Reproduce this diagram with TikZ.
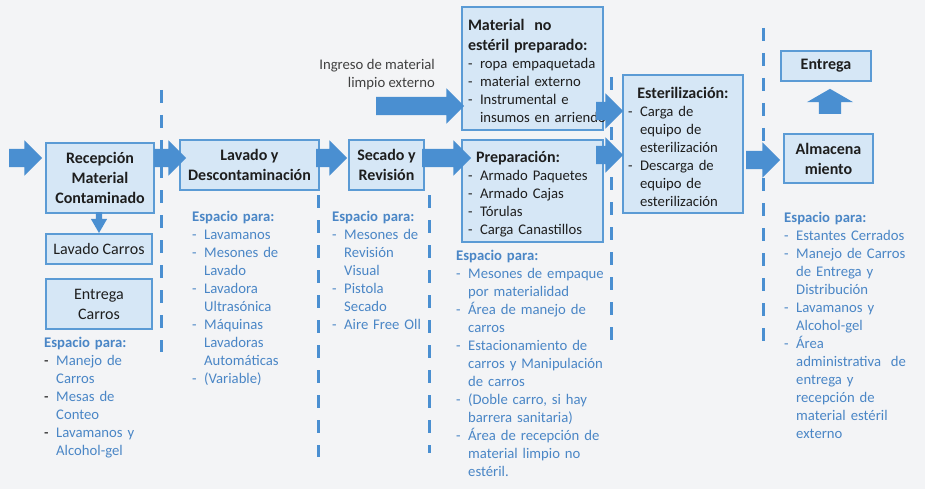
\documentclass[tikz,border=0pt]{standalone}
\usepackage{fontspec}
\setmainfont{Carlito}
\usetikzlibrary{positioning,shapes.arrows}
\definecolor{bgrey}{HTML}{F3F4F6}
\definecolor{boxfill}{HTML}{D6E7F6}
\definecolor{boxline}{HTML}{5B9BD5}
\definecolor{arrblue}{HTML}{4A8FD1}
\definecolor{txtblue}{HTML}{4A86C6}
\definecolor{txtdark}{HTML}{1E1E1E}
\newcommand{\lsize}{\fontsize{14.7pt}{18pt}\selectfont}
\newcommand{\tsize}{\fontsize{16pt}{20pt}\selectfont}
\newcommand{\tstrut}{\rule{0pt}{17pt}}
% list item with a dash; \\ starts an indented continuation line
\newcommand{\itm}[2][.]{\par\def\\{\par\noindent\hspace*{12pt}}\noindent\makebox[12pt][l]{\textcolor{#1}{-}}#2}
\tikzset{
  box/.style={draw=boxline, fill=boxfill, line width=1.2pt, text=txtdark, inner sep=0pt},
  ttl/.style={box, font=\tsize\bfseries, align=center},
  plain/.style={box, font=\tsize, align=center},
  lbox/.style={box, font=\lsize, align=left, inner xsep=6pt},
  barrow/.style={single arrow, fill=arrblue, inner xsep=0pt, inner ysep=9pt, minimum width=0pt,
    single arrow head extend=8.5pt, single arrow tip angle=90, anchor=tip},
  splist/.style={anchor=north west, inner sep=0pt, text width=170pt, align=left, font=\lsize, text=txtblue},
  dline/.style={draw=arrblue, line width=3pt, dash pattern=on 13pt off 12pt}
}
\begin{document}
\begin{tikzpicture}[x=1pt, y=-1pt]
\path[use as bounding box, fill=bgrey] (0,0) rectangle (925,489);

% zone separators
\draw[dline] (161,90) -- (161,352);
\draw[dline] (318.5,195) -- (318.5,457);
\draw[dline] (429,195) -- (429,453);
\draw[dline] (611,77) -- (611,340);
\draw[dline] (763,28) -- (763,350);

% process boxes
\node[ttl, minimum width=108pt, minimum height=70pt] (rec) at (100,178) {Recepción\\Material\\Contaminado};
\node[plain, minimum width=106pt, minimum height=30pt] (lcar) at (99,249) {Lavado Carros};
\node[plain, minimum width=106pt, minimum height=50pt] (ecar) at (99,304) {Entrega\\Carros};
\node[ttl, minimum width=139pt, minimum height=50pt] (lav) at (249.5,165) {Lavado y\\Descontaminación};
\node[ttl, minimum width=75pt, minimum height=50pt] (sec) at (386.5,165) {Secado y\\Revisión};
\node[lbox, text width=129pt, minimum height=123pt] (mat) at (532.5,68.5)
  {{\tsize\bfseries\tstrut Material\ \ no\\estéril preparado:\par}\itm{ropa empaquetada}\itm{material externo}\itm{Instrumental e\\\mbox{insumos en arriendo}}};
\node[lbox, text width=129pt, minimum height=102pt] (prep) at (532.5,191)
  {{\tsize\bfseries\tstrut\hspace*{8pt}Preparación:\par}\itm{Armado Paquetes}\itm{Armado Cajas}\itm{Tórulas}\itm{Carga Canastillos}};
\node[lbox, inner xsep=5pt, text width=110pt, minimum height=138pt] (est) at (683,144)
  {\makebox[110pt][c]{\tsize\bfseries\tstrut Esterilización:}\itm{Carga de\\equipo de\\esterilización}\itm{Descarga de\\equipo de\\esterilización}};
\node[ttl, minimum width=90pt, minimum height=30pt] (ent) at (826,66) {Entrega};
\node[ttl, minimum width=89pt, minimum height=49pt] (alm) at (828.5,158.5) {Almacena\\miento};

\node[font=\lsize, align=right, text=txtdark!85, inner sep=0pt, anchor=east] (ing) at (435,74.5) {Ingreso de material\\limpio externo};

% space lists
\node[splist] (sp1) at (44,337) {\textbf{Espacio para:}\itm[black]{Manejo de\\Carros}\itm[black]{Mesas de\\Conteo}\itm[black]{Lavamanos y\\Alcohol-gel}};
\node[splist] (sp2) at (192,211) {\textbf{Espacio para:}\itm{Lavamanos}\itm{Mesones de\\Lavado}\itm{Lavadora\\Ultrasónica}\itm{Máquinas\\Lavadoras\\Automáticas}\itm{(Variable)}};
\node[splist] (sp3) at (332,211) {\textbf{Espacio para:}\itm{Mesones de\\Revisión\\Visual}\itm{Pistola\\Secado}\itm{Aire Free Oll}};
\node[splist] (sp4) at (456,250) {\textbf{Espacio para:}\itm{Mesones de empaque\\por materialidad}\itm{Área de manejo de\\carros}\itm{Estacionamiento de\\carros y Manipulación\\de carros}\itm{(Doble carro, si hay\\barrera sanitaria)}\itm{Área de recepción de\\material limpio no\\estéril.}};
\node[splist] (sp5) at (784,212) {\textbf{Espacio para:}\itm{Estantes Cerrados}\itm{Manejo de Carros\\de Entrega y\\Distribución}\itm{Lavamanos y\\Alcohol-gel}\itm{Área\\administrativa\ \ de\\entrega y\\recepción de\\material estéril\\externo}};

% flow arrows
\node[barrow, minimum height=33pt] (a0) at ([xshift=-3pt,yshift=20pt]rec.west) {};
\node[barrow, minimum height=32pt] (a1) at ([xshift=7pt,yshift=7pt]lav.west) {};
\node[barrow, minimum height=31pt] (a2) at ([xshift=-1pt,yshift=7pt]sec.west) {};
\node[barrow, minimum height=49pt] (a3) at ([xshift=10pt,yshift=33pt]prep.west) {};
\node[barrow, minimum height=88pt] (a4) at ([xshift=3pt,yshift=-37.5pt]mat.west) {};
\node[barrow, minimum height=27pt] (a5) at ([xshift=1pt,yshift=33pt]est.west) {};
\node[barrow, minimum height=27pt] (a6) at ([xshift=1pt,yshift=-11pt]est.west) {};
\node[barrow, minimum height=34pt] (a7) at ([xshift=-3pt,yshift=-1.5pt]alm.west) {};
\node[barrow, shape border rotate=270, inner xsep=3pt, inner ysep=0pt, single arrow head extend=5pt,
  single arrow tip angle=60, minimum height=21pt] (ad) at (lcar.north) {};
\node[barrow, shape border rotate=90, inner xsep=11pt, inner ysep=0pt, single arrow head extend=12pt,
  single arrow tip angle=120, minimum height=25pt] (au) at ([xshift=4pt,yshift=-7pt]ent.south) {};
\end{tikzpicture}
\end{document}
